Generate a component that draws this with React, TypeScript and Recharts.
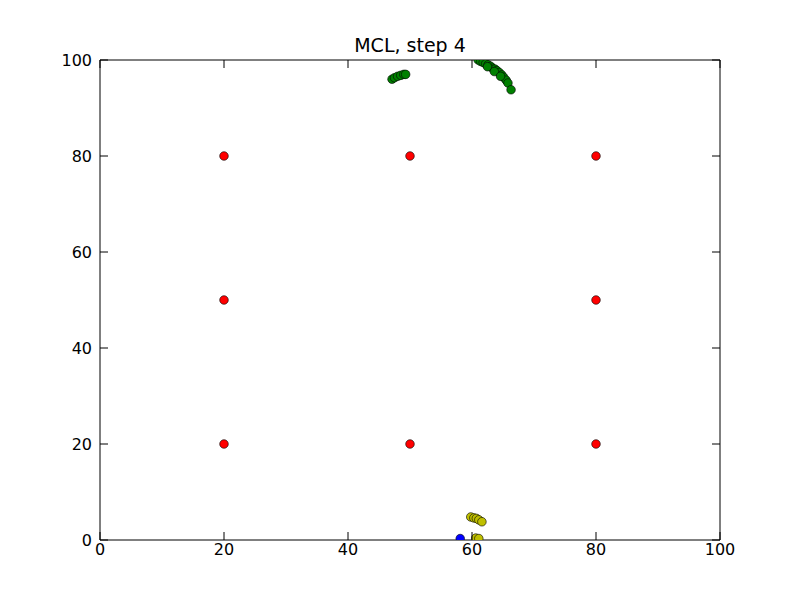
import { ScatterChart, Scatter, XAxis, YAxis } from "recharts"

const landmarks = [
  { x: 20, y: 20 }, { x: 20, y: 50 }, { x: 20, y: 80 },
  { x: 50, y: 20 }, { x: 50, y: 80 },
  { x: 80, y: 20 }, { x: 80, y: 50 }, { x: 80, y: 80 },
]

const greenParticles = [
  { x: 47.1, y: 96.0 }, { x: 47.5, y: 96.3 }, { x: 48.0, y: 96.6 }, { x: 48.5, y: 96.8 },
  { x: 49.0, y: 97.0 }, { x: 49.3, y: 97.0 },
  { x: 61.0, y: 100.0 }, { x: 61.4, y: 99.7 }, { x: 61.8, y: 99.5 }, { x: 62.2, y: 99.2 },
  { x: 62.6, y: 99.0 }, { x: 63.0, y: 98.7 }, { x: 63.3, y: 98.3 }, { x: 63.7, y: 98.1 },
  { x: 64.0, y: 97.8 }, { x: 64.4, y: 97.4 }, { x: 64.8, y: 96.9 }, { x: 65.1, y: 96.4 },
  { x: 65.5, y: 95.8 }, { x: 65.8, y: 95.2 }, { x: 66.3, y: 93.8 },
  { x: 62.5, y: 98.6 }, { x: 63.6, y: 97.6 }, { x: 64.6, y: 96.6 },
]

const yellowParticles = [
  { x: 59.8, y: 4.8 }, { x: 60.3, y: 4.6 }, { x: 60.7, y: 4.5 }, { x: 61.1, y: 4.2 },
  { x: 61.6, y: 3.8 }, { x: 60.6, y: 0.4 }, { x: 61.1, y: 0.3 },
]

const robot = [{ x: 58.1, y: 0.3 }]

const ticks = [0, 20, 40, 60, 80, 100]

const font = "DejaVu Sans"

const Dot = (fill: string) => (p: any) => (
  <circle cx={p.cx} cy={p.cy} r={4.3} fill={fill} stroke="#000" strokeWidth={0.6} />
)

const BottomTick = (p: any) => (
  <g>
    <line x1={p.x} x2={p.x} y1={p.y} y2={p.y - 8} stroke="#000" />
    <text x={p.x} y={p.y + 15} textAnchor="middle" fontFamily={font} fontSize={16}>
      {p.payload.value}
    </text>
  </g>
)
const TopTick = (p: any) => <line x1={p.x} x2={p.x} y1={p.y} y2={p.y + 8} stroke="#000" />
const LeftTick = (p: any) => (
  <g>
    <line x1={p.x} x2={p.x + 8} y1={p.y} y2={p.y} stroke="#000" />
    <text x={p.x - 8} y={p.y + 6} textAnchor="end" fontFamily={font} fontSize={16}>
      {p.payload.value}
    </text>
  </g>
)
const RightTick = (p: any) => <line x1={p.x} x2={p.x - 8} y1={p.y} y2={p.y} stroke="#000" />

export default function App() {
  return (
    <div style={{ position: "absolute", left: 0, top: 0, width: 800, height: 600, background: "#fff" }}>
      <div style={{ position: "absolute", top: 34, width: 820, textAlign: "center", fontFamily: font, fontSize: 19 }}>
        MCL, step 4
      </div>
      <ScatterChart width={800} height={600} margin={{ top: 59, right: 0, bottom: 0, left: 0 }}>
        <XAxis xAxisId="b" type="number" dataKey="x" domain={[0, 100]} ticks={ticks} height={60}
          tickSize={0} tickMargin={0} tick={BottomTick} stroke="#000" allowDataOverflow />
        <XAxis xAxisId="t" orientation="top" type="number" dataKey="x" domain={[0, 100]} ticks={ticks} height={1}
          tickSize={0} tickMargin={0} tick={TopTick} stroke="#000" allowDataOverflow />
        <YAxis yAxisId="l" type="number" dataKey="y" domain={[0, 100]} ticks={ticks} width={100}
          tickSize={0} tickMargin={0} tick={LeftTick} stroke="#000" allowDataOverflow />
        <YAxis yAxisId="r" orientation="right" type="number" dataKey="y" domain={[0, 100]} ticks={ticks} width={80}
          tickSize={0} tickMargin={0} tick={RightTick} stroke="#000" allowDataOverflow />
        <Scatter xAxisId="b" yAxisId="l" data={landmarks} shape={Dot("#ff0000")} isAnimationActive={false} />
        <Scatter xAxisId="b" yAxisId="l" data={greenParticles} shape={Dot("#008000")} isAnimationActive={false} />
        <Scatter xAxisId="b" yAxisId="l" data={yellowParticles} shape={Dot("#bfbf00")} isAnimationActive={false} />
        <Scatter xAxisId="b" yAxisId="l" data={robot} shape={Dot("#0000ff")} isAnimationActive={false} />
      </ScatterChart>
    </div>
  )
}
